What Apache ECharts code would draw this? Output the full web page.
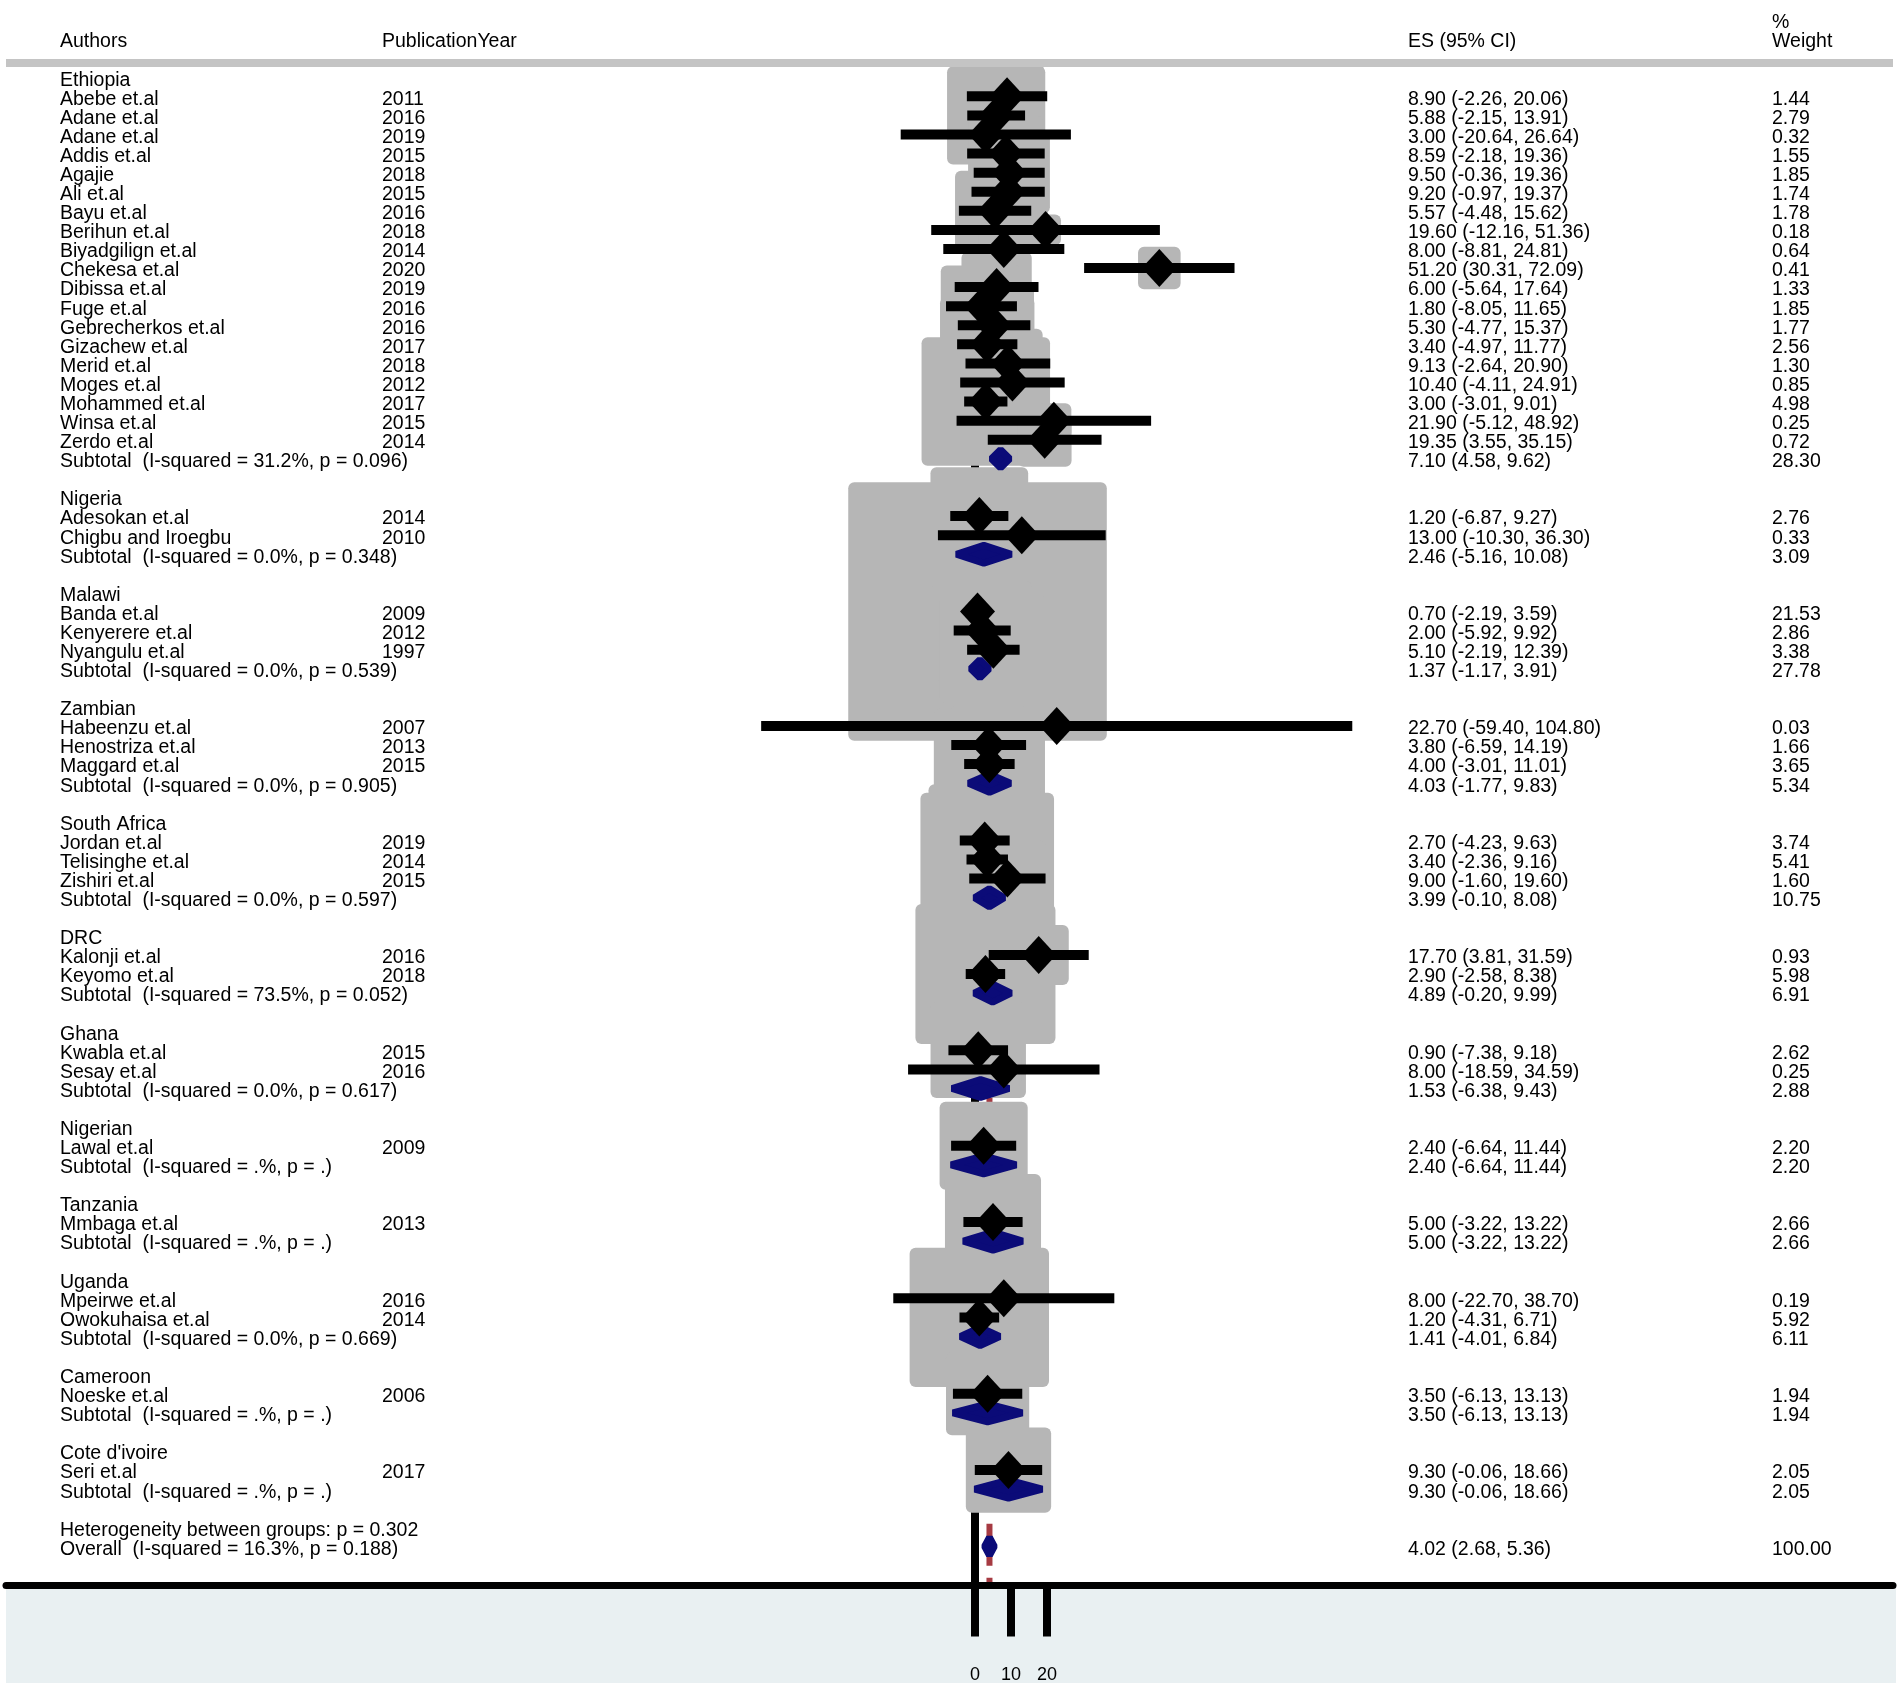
<!DOCTYPE html>
<html>
<head>
<meta charset="utf-8">
<script src="https://cdn.jsdelivr.net/npm/echarts@6/dist/echarts.min.js"></script>
<style>
html, body { margin: 0; padding: 0; background: #fff; }
#main { width: 1902px; height: 1687px; }
</style>
</head>
<body>
<div id="main"></div>
<script>
/* groups (countries) and how many studies each has */
var groupNames = ['Ethiopia', 'Nigeria', 'Malawi', 'Zambian', 'South Africa', 'DRC', 'Ghana', 'Nigerian', 'Tanzania', 'Uganda', 'Cameroon', "Cote d'ivoire"];
var groupSize = [19, 2, 3, 3, 3, 2, 2, 1, 1, 2, 1, 1];

/* studies */
var studyNames = ['Abebe et.al', 'Adane et.al', 'Adane et.al', 'Addis et.al', 'Agajie', 'Ali et.al', 'Bayu et.al', 'Berihun et.al', 'Biyadgilign et.al', 'Chekesa et.al', 'Dibissa et.al', 'Fuge et.al', 'Gebrecherkos et.al', 'Gizachew et.al', 'Merid et.al', 'Moges et.al', 'Mohammed et.al', 'Winsa et.al', 'Zerdo et.al',
	'Adesokan et.al', 'Chigbu and Iroegbu',
	'Banda et.al', 'Kenyerere et.al', 'Nyangulu et.al',
	'Habeenzu et.al', 'Henostriza et.al', 'Maggard et.al',
	'Jordan et.al', 'Telisinghe et.al', 'Zishiri et.al',
	'Kalonji et.al', 'Keyomo et.al',
	'Kwabla et.al', 'Sesay et.al',
	'Lawal et.al',
	'Mmbaga et.al',
	'Mpeirwe et.al', 'Owokuhaisa et.al',
	'Noeske et.al',
	'Seri et.al'];
var studyYears = [2011, 2016, 2019, 2015, 2018, 2015, 2016, 2018, 2014, 2020, 2019, 2016, 2016, 2017, 2018, 2012, 2017, 2015, 2014,
	2014, 2010,
	2009, 2012, 1997,
	2007, 2013, 2015,
	2019, 2014, 2015,
	2016, 2018,
	2015, 2016,
	2009,
	2013,
	2016, 2014,
	2006,
	2017];
var studyES = [8.90, 5.88, 3.00, 8.59, 9.50, 9.20, 5.57, 19.60, 8.00, 51.20, 6.00, 1.80, 5.30, 3.40, 9.13, 10.40, 3.00, 21.90, 19.35,
	1.20, 13.00,
	0.70, 2.00, 5.10,
	22.70, 3.80, 4.00,
	2.70, 3.40, 9.00,
	17.70, 2.90,
	0.90, 8.00,
	2.40,
	5.00,
	8.00, 1.20,
	3.50,
	9.30];
var studyLow = [-2.26, -2.15, -20.64, -2.18, -0.36, -0.97, -4.48, -12.16, -8.81, 30.31, -5.64, -8.05, -4.77, -4.97, -2.64, -4.11, -3.01, -5.12, 3.55,
	-6.87, -10.30,
	-2.19, -5.92, -2.19,
	-59.40, -6.59, -3.01,
	-4.23, -2.36, -1.60,
	3.81, -2.58,
	-7.38, -18.59,
	-6.64,
	-3.22,
	-22.70, -4.31,
	-6.13,
	-0.06];
var studyHigh = [20.06, 13.91, 26.64, 19.36, 19.36, 19.37, 15.62, 51.36, 24.81, 72.09, 17.64, 11.65, 15.37, 11.77, 20.90, 24.91, 9.01, 48.92, 35.15,
	9.27, 36.30,
	3.59, 9.92, 12.39,
	104.80, 14.19, 11.01,
	9.63, 9.16, 19.60,
	31.59, 8.38,
	9.18, 34.59,
	11.44,
	13.22,
	38.70, 6.71,
	13.13,
	18.66];
var studyWeight = [1.44, 2.79, 0.32, 1.55, 1.85, 1.74, 1.78, 0.18, 0.64, 0.41, 1.33, 1.85, 1.77, 2.56, 1.30, 0.85, 4.98, 0.25, 0.72,
	2.76, 0.33,
	21.53, 2.86, 3.38,
	0.03, 1.66, 3.65,
	3.74, 5.41, 1.60,
	0.93, 5.98,
	2.62, 0.25,
	2.20,
	2.66,
	0.19, 5.92,
	1.94,
	2.05];

/* subtotals per group */
var subI2 = ['31.2', '0.0', '0.0', '0.0', '0.0', '73.5', '0.0', '.', '.', '0.0', '.', '.'];
var subP = ['0.096', '0.348', '0.539', '0.905', '0.597', '0.052', '0.617', '.', '.', '0.669', '.', '.'];
var subES = [7.10, 2.46, 1.37, 4.03, 3.99, 4.89, 1.53, 2.40, 5.00, 1.41, 3.50, 9.30];
var subLow = [4.58, -5.16, -1.17, -1.77, -0.10, -0.20, -6.38, -6.64, -3.22, -4.01, -6.13, -0.06];
var subHigh = [9.62, 10.08, 3.91, 9.83, 8.08, 9.99, 9.43, 11.44, 13.22, 6.84, 13.13, 18.66];
var subWeight = [28.30, 3.09, 27.78, 5.34, 10.75, 6.91, 2.88, 2.20, 2.66, 6.11, 1.94, 2.05];

/* overall */
var hetP = '0.302';
var overallI2 = '16.3';
var overallP = '0.188';
var overallES = 4.02;
var overallLow = 2.68;
var overallHigh = 5.36;
var overallWeight = 100.00;

var xTicks = [0, 10, 20];

/*字体*/
var FONT = '19.5px "Liberation Sans", Arial, sans-serif';
var NAVY = '#0b0b78';
var BOX_GRAY = '#b6b6b6';

/* column x positions */
var colAuthor = 60, colYear = 382, colES = 1408, colWeight = 1772;

/* y range in rows: row 0 = "Ethiopia", row 77 = "Overall" */
var yMin = -0.6, yMax = 79.05;
/* x range so that 0 lands at 975px, 3.6px per unit */
var xMin = (6 - 975) / 3.6, xMax = (1893 - 975) / 3.6;

/* build rows of the table */
var rows = [];
var r = 0, s = 0;
for (var g = 0; g < groupNames.length; g++) {
	rows.push({row: r++, kind: 'group', label: groupNames[g]});
	for (var k = 0; k < groupSize[g]; k++) {
		rows.push({row: r++, kind: 'study', label: studyNames[s], year: studyYears[s],
			es: studyES[s], lo: studyLow[s], hi: studyHigh[s], w: studyWeight[s]});
		s++;
	}
	rows.push({row: r++, kind: 'sub', label: 'Subtotal  (I-squared = ' + subI2[g] + '%, p = ' + subP[g] + ')',
		es: subES[g], lo: subLow[g], hi: subHigh[g], w: subWeight[g]});
	r++; // blank line
}
rows.push({row: r++, kind: 'het', label: 'Heterogeneity between groups: p = ' + hetP});
rows.push({row: r++, kind: 'overall', label: 'Overall  (I-squared = ' + overallI2 + '%, p = ' + overallP + ')',
	es: overallES, lo: overallLow, hi: overallHigh, w: overallWeight});

var studyRows = rows.filter(function (d) { return d.kind == 'study'; });
var pooledRows = rows.filter(function (d) { return d.kind == 'sub' || d.kind == 'overall'; });

function fmt(d) {
	return d.es.toFixed(2) + ' (' + d.lo.toFixed(2) + ', ' + d.hi.toFixed(2) + ')';
}

function txt(text, x, y) {
	return {type: 'text', style: {text: text, x: x, y: y, font: FONT, fill: '#000', verticalAlign: 'middle'}};
}

var chart = echarts.init(document.getElementById('main'));

var option = {
	animation: false,
	grid: {left: 6, right: 9, top: 65.8, bottom: 101.5, containLabel: false, outerBoundsMode: 'none'},
	xAxis: {
		type: 'value', min: xMin, max: xMax, z: 10,
		axisLine: {show: true, onZero: false, lineStyle: {color: '#000', width: 7}},
		axisTick: {show: true, customValues: xTicks, length: 51, lineStyle: {color: '#000', width: 8}},
		axisLabel: {show: true, customValues: xTicks, margin: 81, fontSize: 18, color: '#000',
			fontFamily: '"Liberation Sans", Arial, sans-serif'},
		splitLine: {show: false}
	},
	yAxis: {type: 'value', min: yMin, max: yMax, inverse: true, show: false},
	graphic: [
		{type: 'rect', z: -5, shape: {x: 6, y: 1589, width: 1890, height: 94}, style: {fill: '#e9f0f2'}},
		{type: 'rect', z: 100, shape: {x: 6, y: 59, width: 1887, height: 8}, style: {fill: '#c4c4c4'}},
		Object.assign({z: 100}, txt('Authors', colAuthor, 42)),
		Object.assign({z: 100}, txt('PublicationYear', colYear, 42)),
		Object.assign({z: 100}, txt('ES (95% CI)', colES, 42)),
		Object.assign({z: 100}, txt('%', colWeight, 23)),
		Object.assign({z: 100}, txt('Weight', colWeight, 42))
	],
	series: [
		{
			// null line and overall effect line
			type: 'custom', z: 1, silent: true,
			data: [[0, 0], [overallES, 1]],
			renderItem: function (params, api) {
				var x = api.value(0);
				var p1 = api.coord([x, yMin]);
				var p2 = api.coord([x, yMax]);
				if (params.dataIndex == 0) {
					return {type: 'line', shape: {x1: p1[0], y1: p1[1], x2: p2[0], y2: p2[1] - 3},
						style: {stroke: '#000', lineWidth: 8}};
				}
				return {type: 'line', shape: {x1: p1[0], y1: p1[1], x2: p2[0], y2: p2[1] - 3},
					style: {stroke: '#a63a42', lineWidth: 6, lineDash: [15, 12]}};
			}
		},
		{
			// weight boxes
			type: 'custom', z: 2, silent: true,
			encode: {x: 0, y: 1},
			data: studyRows.map(function (d) { return [d.es, d.row, d.w]; }),
			renderItem: function (params, api) {
				var c = api.coord([api.value(0), api.value(1)]);
				var side = 54 * Math.sqrt(api.value(2)) + 8;
				return {type: 'rect', shape: {x: c[0] - side / 2, y: c[1] - side / 2, width: side, height: side, r: 6},
					style: {fill: BOX_GRAY}};
			}
		},
		{
			// confidence intervals
			type: 'custom', z: 3, silent: true,
			encode: {x: [0, 1], y: 2},
			data: studyRows.map(function (d) { return [d.lo, d.hi, d.row]; }),
			renderItem: function (params, api) {
				var a = api.coord([api.value(0), api.value(2)]);
				var b = api.coord([api.value(1), api.value(2)]);
				return {type: 'line', shape: {x1: a[0], y1: a[1], x2: b[0], y2: b[1]},
					style: {stroke: '#000', lineWidth: 10}};
			}
		},
		{
			// pooled diamonds
			type: 'custom', z: 4, silent: true,
			encode: {x: [0, 1, 2], y: 3},
			data: pooledRows.map(function (d) { return [d.es, d.lo, d.hi, d.row]; }),
			renderItem: function (params, api) {
				var y = api.value(3);
				var m = api.coord([api.value(0), y]);
				var lo = api.coord([api.value(1), y]);
				var hi = api.coord([api.value(2), y]);
				var h = 9;
				return {type: 'polygon',
					shape: {points: [[lo[0], m[1]], [m[0], m[1] - h], [hi[0], m[1]], [m[0], m[1] + h]]},
					style: {fill: NAVY, stroke: NAVY, lineWidth: 7, lineJoin: 'bevel'}};
			}
		},
		{
			// point estimates
			type: 'scatter', z: 5, silent: true,
			symbol: 'diamond', symbolSize: [35, 38],
			itemStyle: {color: '#000', opacity: 1},
			data: studyRows.map(function (d) { return [d.es, d.row]; })
		},
		{
			// table text
			type: 'custom', z: 6, silent: true,
			encode: {x: 0, y: 1},
			data: rows.map(function (d) { return [0, d.row]; }),
			renderItem: function (params, api) {
				var d = rows[params.dataIndex];
				var y = api.coord([0, d.row])[1] + 3;
				var kids = [txt(d.label, colAuthor, y)];
				if (d.year) {
					kids.push(txt(String(d.year), colYear, y));
				}
				if (d.es !== undefined) {
					kids.push(txt(fmt(d), colES, y));
					kids.push(txt(d.w.toFixed(2), colWeight, y));
				}
				return {type: 'group', children: kids};
			}
		}
	]
};

chart.setOption(option);
</script>
</body>
</html>
